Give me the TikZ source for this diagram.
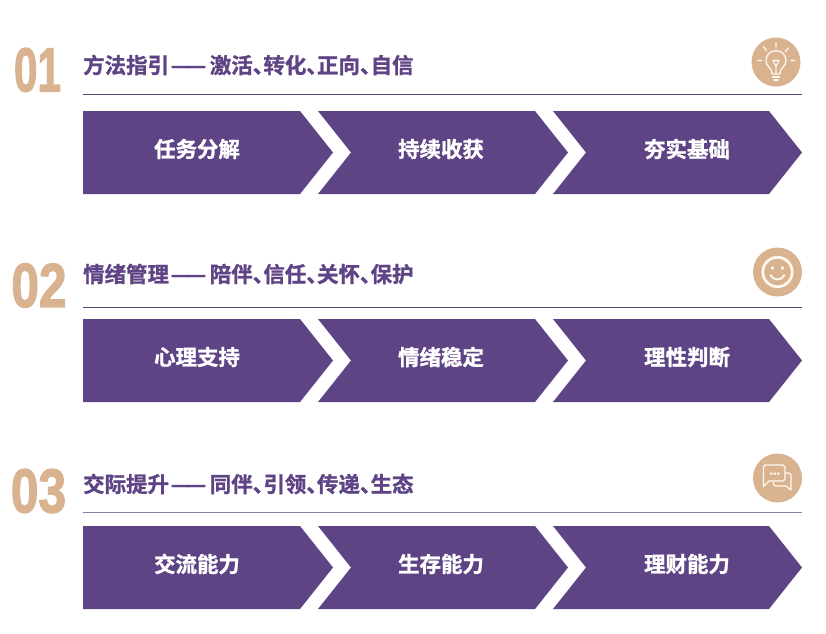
\documentclass[tikz,border=0pt]{standalone}
\usepackage{fontspec}
\setmainfont{Noto Sans CJK SC}[BoldFont={* Bold},BoldFeatures={FakeBold=1.2}]
\newfontfamily\numfont{Liberation Sans}[BoldFont={* Bold},BoldFeatures={FakeBold=2.2}]
\usepackage{xcolor}
\definecolor{plum}{RGB}{94,67,133}
\definecolor{tan1}{RGB}{217,179,143}
\definecolor{ivory}{RGB}{253,248,240}
\newcommand{\dun}{、\kern-.5em}
\newcommand{\ldash}{\kern.08em—\kern-.16em—\kern.17em}
% one row of three arrows, #1 = top edge
\newcommand{\chevrow}[5]{
  \fill[plum] (83,#1) -- (300,#1) -- (333,#1+41.5) -- (300,#1+83) -- (83,#1+83) -- cycle;
  \fill[plum] (318,#1) -- (535,#1) -- (568,#1+41.5) -- (535,#1+83) -- (318,#1+83) -- (351,#1+41.5) -- cycle;
  \fill[plum] (553,#1) -- (769,#1) -- (802,#1+41.5) -- (769,#1+83) -- (553,#1+83) -- (586,#1+41.5) -- cycle;
  \node[chevtext] (#2a) at (197,#1+38) {#3};
  \node[chevtext] (#2b) at (441,#1+38) {#4};
  \node[chevtext] (#2c) at (687,#1+38) {#5};
}
\tikzset{
  chevtext/.style={text=white,font=\fontsize{18.3}{20}\selectfont\bfseries},
  heading/.style={anchor=west,inner sep=0pt,text=plum,font=\fontsize{18.3}{20}\selectfont\bfseries},
  bignum/.style={text=tan1,inner sep=0pt,xscale=0.8,font=\fontsize{53}{60}\selectfont\numfont\bfseries},
  rule/.style={plum,line width=0.75pt},
  badge/.style={circle,fill=tan1,inner sep=0pt,minimum size=1.47cm},
  ico/.style={ivory,line width=1.1pt,line cap=round,line join=round},
}
\begin{document}
\begin{tikzpicture}[x=0.03cm,y=-0.03cm]
  \useasboundingbox (0,0) rectangle (826,634);
  % first block
  \node[bignum,xscale=0.85] (num1) at (37.5,70) {01};
  \node[heading] (head1) at (83,65) {方法指引\ldash 激活\dun 转化\dun 正向\dun 自信};
  \draw[rule] (83,94.5) -- (802,94.5);
  \chevrow{111}{m}{任务分解}{持续收获}{夯实基础}
  \node[badge] (bulb) at (776,62) {};
  \draw[ico] (772,74) -- (771.5,70.5) .. controls (770.5,67.5) and (766,66) .. (766,60.5)
    .. controls (766,47.5) and (786,47.5) .. (786,60.5) .. controls (786,66) and (781.5,67.5) .. (780.5,70.5) -- (780,74) -- cycle;
  \draw[ico] (773,60.5) -- (779,60.5) -- (776,66.5) -- cycle (776,66.5) -- (776,73);
  \draw[ico] (772.5,77) -- (779.5,77) (774,80) -- (778,80);
  \draw[ico] (776,43) -- (776,47) (763.5,46.7) -- (766.5,50.5) (788.3,48) -- (785.3,51.5)
    (757.5,60.5) -- (761.5,60.5) (791,60.5) -- (795,60.5);
  % second block
  \node[bignum] (num2) at (39,285.5) {02};
  \node[heading] (head2) at (83,274) {情绪管理\ldash 陪伴\dun 信任\dun 关怀\dun 保护};
  \draw[rule] (83,307) -- (802,307);
  \chevrow{319}{e}{心理支持}{情绪稳定}{理性判断}
  \node[badge] (smile) at (777.5,272) {};
  \draw[ico,line width=2.3pt] (smile.center) circle (14.7);
  \fill[ivory] (772.5,268) circle (1.9) (782.5,268) circle (1.9);
  \draw[ico,line width=1.6pt] (770.5,275) .. controls (773,281) and (782,281) .. (784.5,275);
  % third block
  \node[bignum] (num3) at (38.5,491) {03};
  \node[heading] (head3) at (83,484) {交际提升\ldash 同伴\dun 引领\dun 传递\dun 生态};
  \draw[rule,plum!70] (83,512) -- (802,512);
  \chevrow{526}{s}{交流能力}{生存能力}{理财能力}
  \node[badge] (chat) at (777.5,478) {};
  \draw[ico] (765,465) -- (783,465) -- (785,467) -- (785,479) -- (783,481) -- (769,481) -- (763.5,486.5) -- (763.5,467) -- cycle;
  \draw[ico] (785,473) -- (789,473) -- (791,475) -- (791,490) -- (786,486) -- (775,486) -- (773.5,484.5) -- (773.5,481);
  \fill[ivory] (770,472.5) rectangle (772.5,474.5) (773.5,472.5) rectangle (776,474.5) (777,472.5) rectangle (779.5,474.5);
\end{tikzpicture}
\end{document}
